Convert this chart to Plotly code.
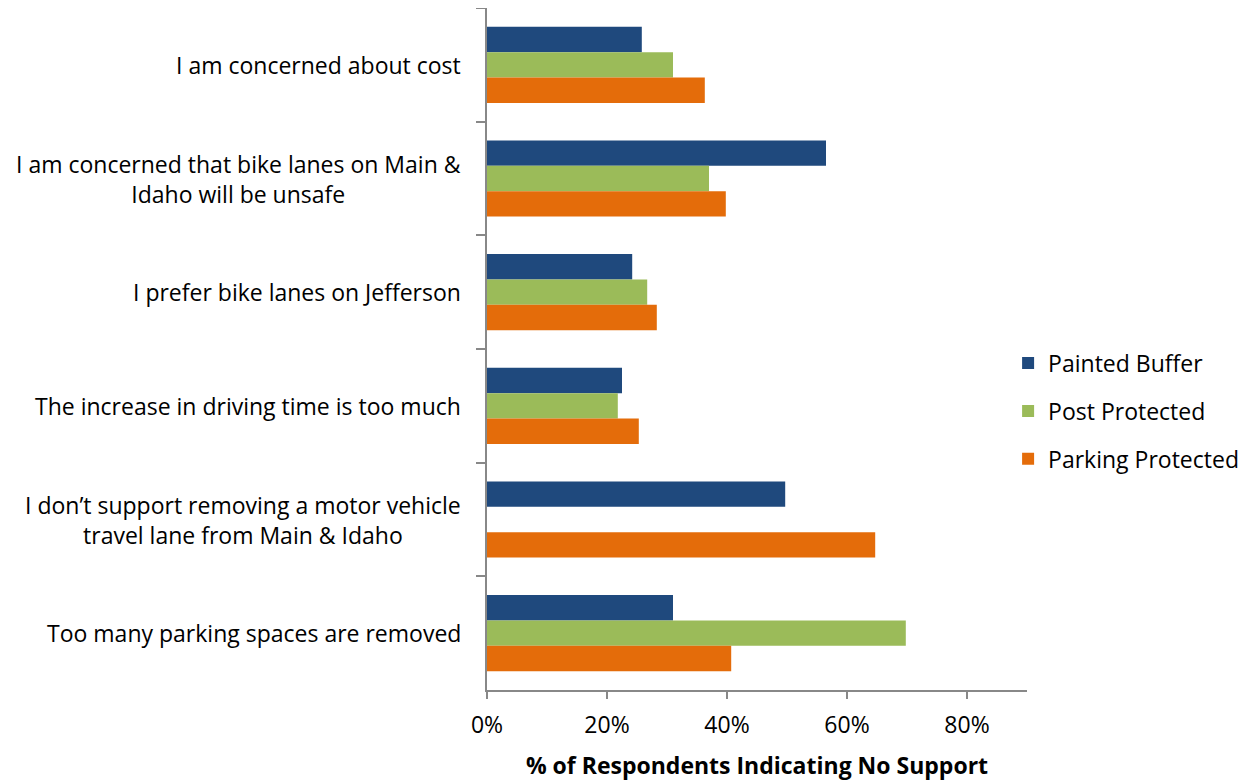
import plotly.graph_objects as go

categories = [
    "I am concerned about cost",
    "I am concerned that bike lanes on Main &<br>Idaho will be unsafe",
    "I prefer bike lanes on Jefferson",
    "The increase in driving time is too much",
    "I don’t support removing a motor vehicle<br>travel lane from Main & Idaho",
    "Too many parking spaces are removed",
]
painted_buffer = [0.258, 0.565, 0.242, 0.225, 0.497, 0.310]
post_protected = [0.310, 0.370, 0.267, 0.218, None, 0.698]
parking_protected = [0.363, 0.398, 0.283, 0.253, 0.647, 0.407]
series_names = ["Painted Buffer", "Post Protected", "Parking Protected"]
colors = ["#1F497D", "#9BBB59", "#E46C0A"]
x_ticks = [0, 0.2, 0.4, 0.6, 0.8]
x_tick_labels = ["0%", "20%", "40%", "60%", "80%"]

FONT = "Open Sans"
FS = 23
fig = go.Figure()
for i, (name, vals) in enumerate(zip(series_names, [painted_buffer, post_protected, parking_protected])):
    fig.add_trace(go.Bar(
        y=categories, x=vals, name=name, orientation="h",
        marker=dict(color=colors[i], line=dict(width=0)),
        legendgroup=name,
    ))

# category labels, centre-aligned like the original
for cat in categories:
    fig.add_annotation(
        x=0, xref="paper", y=cat, yref="y", xanchor="right", yanchor="middle",
        xshift=-24, text=cat, showarrow=False, align="center",
        font=dict(family=FONT, size=FS, color="#000000"),
    )

fig.update_layout(
    width=1248, height=782,
    margin=dict(l=479, r=229, t=0, b=100),
    barmode="group", bargap=0.33, bargroupgap=0,
    plot_bgcolor="white", paper_bgcolor="white",
    font=dict(family=FONT, size=FS, color="#000000"),
    showlegend=True,
    legend=dict(x=0.965, y=0.409, xanchor="left", yanchor="middle",
                font=dict(family=FONT, size=FS, color="#000000"),
                tracegroupgap=15, itemwidth=30),
    xaxis=dict(range=[0, 0.9], tickvals=x_ticks, ticktext=x_tick_labels,
               showgrid=False, zeroline=False, showline=True, linecolor="#888888", linewidth=1.5,
               ticks="outside", ticklen=7, tickcolor="#888888", tickwidth=1.5,
               tickfont=dict(family=FONT, size=FS), ticklabelstandoff=7,
               title=dict(text="<b>% of Respondents Indicating No Support</b>",
                          font=dict(family=FONT, size=FS), standoff=19)),
    yaxis=dict(autorange="reversed", showgrid=False, showline=True, linecolor="#888888", linewidth=1.5,
               ticks="outside", ticklen=9, tickcolor="#888888", tickwidth=1.5,
               tickson="boundaries", showticklabels=False),
)
fig.write_html("out.html")
